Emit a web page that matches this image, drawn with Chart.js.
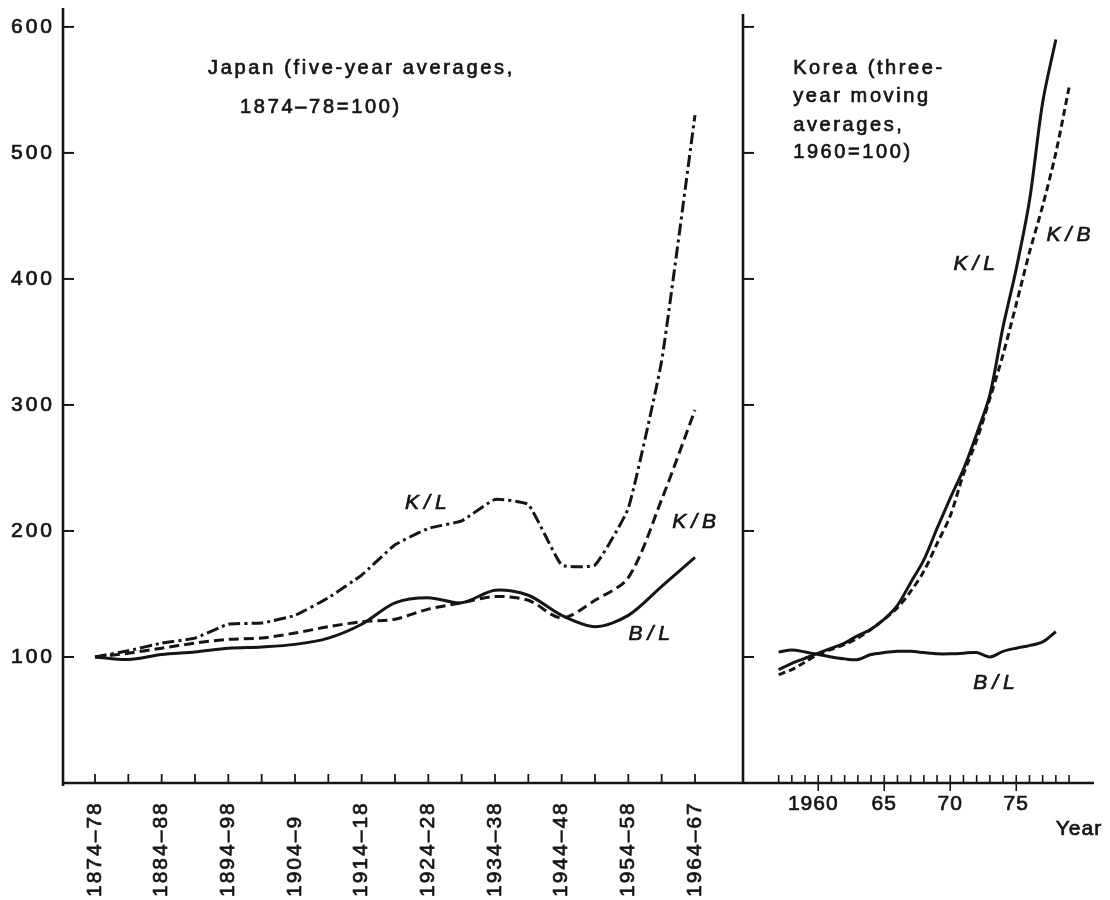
<!DOCTYPE html>
<html>
<head>
<meta charset="utf-8">
<script src="https://cdn.jsdelivr.net/npm/chart.js@4.4.1/dist/chart.umd.min.js"></script>
<style>
  html, body { margin: 0; padding: 0; background: #fff; }
  #wrap { position: relative; width: 1110px; height: 900px; overflow: hidden; background: #fff; }
  #japanChart { position: absolute; left: 0; top: 0; }
  #koreaChart { position: absolute; left: 741px; top: 0; }
</style>
</head>
<body>
<div id="wrap">
  <canvas id="japanChart" width="745" height="900"></canvas>
  <canvas id="koreaChart" width="369" height="900"></canvas>
</div>
<script>
/* ==========================================
   DATA
   ========================================== */

// Japan, five-year averages, 1874-78 = 100
const japanPeriods = [
  "1874–78", "1879–83", "1884–88", "1889–93", "1894–98", "1899–1903", "1904–9",
  "1909–13", "1914–18", "1919–23", "1924–28", "1929–33", "1934–38", "1939–43",
  "1944–48", "1949–53", "1954–58", "1959–63", "1964–67"
];
const japanShown = ["1874–78", "1884–88", "1894–98", "1904–9", "1914–18",
                    "1924–28", "1934–38", "1944–48", "1954–58", "1964–67"];
const japanKL = [100, 105, 111, 115, 126, 127, 133, 147, 165, 189, 202, 208, 225, 221, 173, 173, 218, 335, 530];
const japanKB = [100, 103, 107, 111, 114, 115, 119, 124, 128, 130, 138, 143, 148, 145, 131, 145, 163, 225, 296];
const japanBL = [100, 98, 102, 104, 107, 108, 110, 115, 126, 143, 147, 143, 153, 149, 133, 124, 133, 156, 179];

// Korea, three-year moving averages, 1960 = 100
const koreaYears = [1957, 1958, 1959, 1960, 1961, 1962, 1963, 1964, 1965, 1966, 1967,
                    1968, 1969, 1970, 1971, 1972, 1973, 1974, 1975, 1976, 1977, 1978];
const koreaKBYears = [1957, 1958, 1959, 1960, 1961, 1962, 1963, 1964, 1965, 1966, 1967,
                      1968, 1969, 1970, 1971, 1972, 1973, 1974, 1975, 1976, 1977, 1978, 1979];
const koreaKL = [90, 95, 99, 103, 107, 111, 117, 122, 130, 141, 159, 177, 202, 226, 249, 277, 308, 362, 408, 462, 540, 590];
const koreaKB = [86, 90, 96, 102, 106, 110, 115, 122, 130, 139, 152, 168, 190, 212, 245, 272, 305, 340, 380, 421, 458, 500, 552];
const koreaBL = [104, 105.5, 104, 102, 100, 98.5, 98, 102, 103.5, 104.5, 104.5, 103.5, 102.5, 102.5, 103, 103.5, 100, 104.5, 107, 109, 112, 120];

const koreaLabelYears = [1960, 1965, 1970, 1975];
const koreaLabelText = ["1960", "65", "70", "75"];

const yTicks = [100, 200, 300, 400, 500, 600];

const japanTitle = ["Japan (five-year averages,", "1874–78=100)"];
const koreaTitle = ["Korea (three-", "year moving", "averages,", "1960=100)"];

/* ==========================================
   DRAWING HELPERS
   ========================================== */
const INK = "#151515";
const SANS = '"Liberation Sans", Arial, sans-serif';

function say(ctx, str, x, y, font, align, spacing) {
  ctx.save();
  ctx.font = font;
  ctx.fillStyle = INK;
  ctx.strokeStyle = INK;
  ctx.lineWidth = 0.7;
  ctx.letterSpacing = spacing || "2px";
  ctx.textAlign = align || "left";
  ctx.textBaseline = "middle";
  ctx.fillText(str, x, y);
  ctx.strokeText(str, x, y);
  ctx.restore();
}

function stroke(ctx, x1, y1, x2, y2, w) {
  ctx.beginPath();
  ctx.lineWidth = w || 2.4;
  ctx.strokeStyle = INK;
  ctx.moveTo(x1, y1);
  ctx.lineTo(x2, y2);
  ctx.stroke();
}

function lineSet(label, xs, ys, dash, tension) {
  return {
    label,
    data: xs.map((x, i) => ({ x, y: ys[i] })),
    borderColor: INK,
    borderWidth: 3,
    borderDash: dash,
    pointRadius: 0,
    tension,
    fill: false
  };
}

/* JAPAN FRAME: axes, inward ticks, labels, notes */
const japanFrame = {
  id: "japanFrame",
  afterDraw(chart) {
    const { ctx, chartArea: a, scales: { x, y } } = chart;
    ctx.save();
    stroke(ctx, a.left, a.top, a.left, a.bottom + 3, 2.6);
    stroke(ctx, a.left, a.bottom, a.right, a.bottom, 2.6);
    yTicks.forEach(v => {
      const py = y.getPixelForValue(v);
      stroke(ctx, a.left, py, a.left + 11, py, 2);
      say(ctx, String(v), a.left - 8, py, "21px " + SANS, "right", "3px");
    });
    japanPeriods.forEach((p, i) => {
      const px = x.getPixelForValue(i);
      stroke(ctx, px, a.bottom, px, a.bottom - 9, 1.8);
    });
    japanShown.forEach(p => {
      const px = x.getPixelForValue(japanPeriods.indexOf(p));
      ctx.save();
      ctx.translate(px, 897);
      ctx.rotate(-Math.PI / 2);
      say(ctx, p, 0, 0, "21px " + SANS, "left", "2px");
      ctx.restore();
    });

    say(ctx, japanTitle[0], x.getPixelForValue(3.39), y.getPixelForValue(567), "20px " + SANS, "left", "2.7px");
    say(ctx, japanTitle[1], x.getPixelForValue(4.35), y.getPixelForValue(536), "20px " + SANS, "left", "2.7px");

    const it = "italic 21px " + SANS;
    say(ctx, chart.data.datasets[0].label, x.getPixelForValue(10), y.getPixelForValue(222), it, "center", "5px");
    say(ctx, chart.data.datasets[1].label, x.getPixelForValue(18.05), y.getPixelForValue(207), it, "center", "5px");
    say(ctx, chart.data.datasets[2].label, x.getPixelForValue(16.7), y.getPixelForValue(118), it, "center", "5px");
    ctx.restore();
  }
};

/* KOREA FRAME */
const koreaFrame = {
  id: "koreaFrame",
  afterDraw(chart) {
    const { ctx, chartArea: a, scales: { x, y } } = chart;
    ctx.save();
    stroke(ctx, a.left, a.top + 6, a.left, a.bottom, 2.6);
    stroke(ctx, a.left, a.bottom, a.right, a.bottom, 2.6);
    yTicks.forEach(v => {
      const py = y.getPixelForValue(v);
      stroke(ctx, a.left, py, a.left + 11, py, 2);
    });
    koreaKBYears.forEach(yr => {
      const px = x.getPixelForValue(yr);
      stroke(ctx, px, a.bottom, px, a.bottom - 8, 1.6);
    });
    koreaLabelYears.forEach((yr, i) => {
      const px = x.getPixelForValue(yr);
      stroke(ctx, px, a.bottom, px, a.bottom + 8, 1.6);
      say(ctx, koreaLabelText[i], px - (i === 0 ? 5 : 0), a.bottom + 21, "21px " + SANS, "center", "1px");
    });
    say(ctx, "Year", x.getPixelForValue(1979.75), a.bottom + 46, "21px " + SANS, "center", "1px");

    const notes = [567, 545, 522, 500];
    koreaTitle.forEach((t, i) => {
      say(ctx, t, x.getPixelForValue(1958.1), y.getPixelForValue(notes[i]), "20px " + SANS, "left", "2.6px");
    });

    const it = "italic 21px " + SANS;
    say(ctx, chart.data.datasets[0].label, x.getPixelForValue(1972.0), y.getPixelForValue(412), it, "center", "5px");
    say(ctx, chart.data.datasets[1].label, x.getPixelForValue(1979.15), y.getPixelForValue(435), it, "center", "5px");
    say(ctx, chart.data.datasets[2].label, x.getPixelForValue(1973.5), y.getPixelForValue(79), it, "center", "5px");
    ctx.restore();
  }
};

/* ==========================================
   CHARTS
   ========================================== */
const japanIndex = japanPeriods.map((p, i) => i);

function scalesFor(xMin, xMax, yWidth) {
  return {
    x: {
      type: "linear", min: xMin, max: xMax,
      grid: { display: false, drawTicks: false },
      border: { display: false },
      ticks: { display: false },
      afterFit: s => { s.height = 117; }
    },
    y: {
      min: 0, max: 615,
      grid: { display: false, drawTicks: false },
      border: { display: false },
      ticks: { display: false },
      afterFit: s => { s.width = yWidth; }
    }
  };
}

new Chart(document.getElementById("japanChart"), {
  type: "line",
  data: {
    datasets: [
      lineSet("K/L", japanIndex, japanKL, [12, 4, 3, 4], 0.12),
      lineSet("K/B", japanIndex, japanKB, [10, 5], 0.3),
      lineSet("B/L", japanIndex, japanBL, [], 0.3)
    ]
  },
  options: {
    responsive: false,
    animation: false,
    layout: { padding: { top: 8, right: 2, left: 0, bottom: 0 } },
    plugins: { legend: { display: false }, tooltip: { enabled: false } },
    scales: scalesFor(-0.96, 19.44, 63)
  },
  plugins: [japanFrame]
});

new Chart(document.getElementById("koreaChart"), {
  type: "line",
  data: {
    datasets: [
      lineSet("K/L", koreaYears, koreaKL, [], 0.3),
      lineSet("K/B", koreaKBYears, koreaKB, [7, 4], 0.3),
      lineSet("B/L", koreaYears, koreaBL, [], 0.3)
    ]
  },
  options: {
    responsive: false,
    animation: false,
    layout: { padding: { top: 8, right: 16, left: 2, bottom: 0 } },
    plugins: { legend: { display: false }, tooltip: { enabled: false } },
    scales: scalesFor(1954.3, 1980.89, 0)
  },
  plugins: [koreaFrame]
});
</script>
</body>
</html>
